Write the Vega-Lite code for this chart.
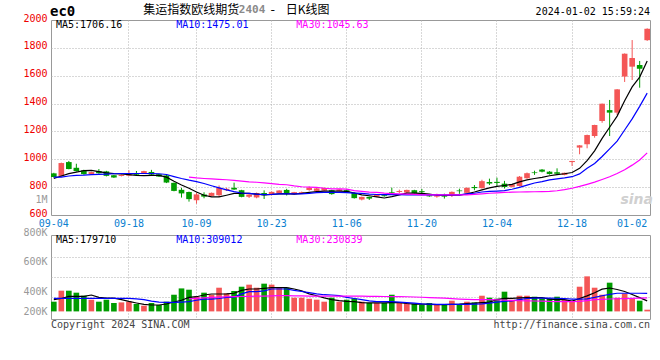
{
"$schema": "https://vega.github.io/schema/vega-lite/v6.json",
"background": "white",
"padding": {"left": 22, "top": 3, "right": 11, "bottom": 4},
"spacing": 20,
"bounds": "flush",
"config": {
  "view": {"stroke": "#999999", "strokeWidth": 1},
  "axis": {"domain": false, "ticks": false, "labelFont": "DejaVu Sans Mono", "labelFontSize": 10, "gridColor": "#b0b0b0", "gridDash": [1, 2], "gridWidth": 1, "labelOverlap": false, "labelFlush": false, "labelBound": false},
  "text": {"font": "DejaVu Sans Mono", "fontSize": 10, "baseline": "middle"}
},
"datasets": {"k": [
{"d":"09-04","o":899,"h":903,"l":868,"c":873,"v":166000,"m5":862,"m10":872,"m30":null,"vm5":200000,"vm10":222000,"vm30":null},
{"d":"09-05","o":878,"h":976,"l":875,"c":973,"v":354000,"m5":880,"m10":872,"m30":null,"vm5":220000,"vm10":222000,"vm30":null},
{"d":"09-06","o":980,"h":988,"l":928,"c":930,"v":354000,"m5":897,"m10":880,"m30":null,"vm5":257000,"vm10":222000,"vm30":null},
{"d":"09-07","o":939,"h":968,"l":912,"c":916,"v":320000,"m5":908,"m10":884,"m30":null,"vm5":257000,"vm10":222000,"vm30":null},
{"d":"09-08","o":920,"h":925,"l":889,"c":893,"v":268000,"m5":918,"m10":886,"m30":null,"vm5":257000,"vm10":222000,"vm30":null},
{"d":"09-11","o":894,"h":911,"l":891,"c":908,"v":200000,"m5":920,"m10":890,"m30":null,"vm5":280000,"vm10":222000,"vm30":null},
{"d":"09-12","o":915,"h":930,"l":896,"c":900,"v":166000,"m5":912,"m10":891,"m30":null,"vm5":240000,"vm10":222000,"vm30":null},
{"d":"09-13","o":913,"h":917,"l":877,"c":881,"v":200000,"m5":902,"m10":893,"m30":null,"vm5":228000,"vm10":222000,"vm30":null},
{"d":"09-14","o":885,"h":887,"l":866,"c":869,"v":144000,"m5":897,"m10":896,"m30":null,"vm5":228000,"vm10":222000,"vm30":null},
{"d":"09-15","o":880,"h":891,"l":877,"c":888,"v":154000,"m5":895,"m10":898,"m30":null,"vm5":200000,"vm10":222000,"vm30":null},
{"d":"09-18","o":882,"h":921,"l":879,"c":891,"v":166000,"m5":890,"m10":898,"m30":null,"vm5":170000,"vm10":222000,"vm30":null},
{"d":"09-19","o":897,"h":916,"l":886,"c":889,"v":126000,"m5":884,"m10":898,"m30":null,"vm5":144000,"vm10":215000,"vm30":null},
{"d":"09-20","o":897,"h":918,"l":894,"c":915,"v":97000,"m5":882,"m10":898,"m30":null,"vm5":120000,"vm10":200000,"vm30":null},
{"d":"09-21","o":909,"h":924,"l":886,"c":890,"v":144000,"m5":884,"m10":898,"m30":null,"vm5":109000,"vm10":175000,"vm30":null},
{"d":"09-22","o":893,"h":896,"l":873,"c":876,"v":109000,"m5":884,"m10":896,"m30":null,"vm5":109000,"vm10":160000,"vm30":null},
{"d":"09-25","o":884,"h":890,"l":829,"c":833,"v":166000,"m5":872,"m10":891,"m30":null,"vm5":126000,"vm10":155000,"vm30":null},
{"d":"09-26","o":831,"h":833,"l":770,"c":773,"v":285000,"m5":842,"m10":876,"m30":null,"vm5":160000,"vm10":155000,"vm30":null},
{"d":"09-27","o":781,"h":795,"l":725,"c":755,"v":393000,"m5":815,"m10":862,"m30":null,"vm5":190000,"vm10":160000,"vm30":null},
{"d":"09-28","o":765,"h":768,"l":696,"c":714,"v":371000,"m5":792,"m10":850,"m30":872,"vm5":240000,"vm10":166000,"vm30":215000},
{"d":"10-09","o":706,"h":760,"l":681,"c":748,"v":251000,"m5":765,"m10":840,"m30":866,"vm5":251000,"vm10":190000,"vm30":222000},
{"d":"10-10","o":747,"h":763,"l":720,"c":732,"v":320000,"m5":742,"m10":826,"m30":862,"vm5":280000,"vm10":211000,"vm30":230000},
{"d":"10-11","o":737,"h":761,"l":733,"c":759,"v":285000,"m5":730,"m10":810,"m30":859,"vm5":297000,"vm10":211000,"vm30":240000},
{"d":"10-12","o":742,"h":812,"l":729,"c":795,"v":405000,"m5":730,"m10":795,"m30":856,"vm5":297000,"vm10":220000,"vm30":245000},
{"d":"10-13","o":778,"h":796,"l":772,"c":788,"v":308000,"m5":742,"m10":780,"m30":853,"vm5":300000,"vm10":240000,"vm30":250000},
{"d":"10-16","o":795,"h":832,"l":780,"c":783,"v":349000,"m5":755,"m10":768,"m30":848,"vm5":310000,"vm10":245000,"vm30":252000},
{"d":"10-17","o":778,"h":781,"l":727,"c":730,"v":422000,"m5":756,"m10":758,"m30":843,"vm5":360000,"vm10":300000,"vm30":255000},
{"d":"10-18","o":731,"h":750,"l":722,"c":747,"v":457000,"m5":755,"m10":755,"m30":838,"vm5":383000,"vm10":337000,"vm30":258000},
{"d":"10-19","o":726,"h":761,"l":720,"c":758,"v":405000,"m5":750,"m10":750,"m30":835,"vm5":383000,"vm10":337000,"vm30":260000},
{"d":"10-20","o":758,"h":777,"l":715,"c":742,"v":474000,"m5":745,"m10":747,"m30":830,"vm5":395000,"vm10":350000,"vm30":262000},
{"d":"10-23","o":745,"h":769,"l":740,"c":766,"v":457000,"m5":747,"m10":748,"m30":825,"vm5":405000,"vm10":383000,"vm30":265000},
{"d":"10-24","o":757,"h":778,"l":753,"c":776,"v":405000,"m5":752,"m10":752,"m30":820,"vm5":405000,"vm10":383000,"vm30":268000},
{"d":"10-25","o":780,"h":788,"l":740,"c":757,"v":405000,"m5":754,"m10":752,"m30":817,"vm5":405000,"vm10":383000,"vm30":268000},
{"d":"10-26","o":749,"h":766,"l":746,"c":764,"v":234000,"m5":750,"m10":752,"m30":809,"vm5":383000,"vm10":360000,"vm30":266000},
{"d":"10-27","o":754,"h":768,"l":750,"c":764,"v":234000,"m5":755,"m10":752,"m30":803,"vm5":350000,"vm10":340000,"vm30":264000},
{"d":"10-30","o":780,"h":805,"l":774,"c":795,"v":217000,"m5":762,"m10":755,"m30":800,"vm5":300000,"vm10":320000,"vm30":262000},
{"d":"10-31","o":773,"h":794,"l":769,"c":791,"v":200000,"m5":768,"m10":760,"m30":798,"vm5":268000,"vm10":300000,"vm30":260000},
{"d":"11-01","o":775,"h":797,"l":772,"c":795,"v":166000,"m5":772,"m10":762,"m30":792,"vm5":230000,"vm10":285000,"vm30":260000},
{"d":"11-02","o":778,"h":781,"l":746,"c":750,"v":234000,"m5":772,"m10":762,"m30":788,"vm5":200000,"vm10":280000,"vm30":260000},
{"d":"11-03","o":773,"h":786,"l":770,"c":784,"v":166000,"m5":772,"m10":762,"m30":787,"vm5":183000,"vm10":270000,"vm30":260000},
{"d":"11-06","o":778,"h":783,"l":757,"c":761,"v":200000,"m5":770,"m10":760,"m30":786,"vm5":170000,"vm10":240000,"vm30":260000},
{"d":"11-07","o":759,"h":761,"l":718,"c":721,"v":222000,"m5":758,"m10":757,"m30":775,"vm5":166000,"vm10":220000,"vm30":260000},
{"d":"11-08","o":711,"h":732,"l":705,"c":730,"v":166000,"m5":745,"m10":755,"m30":770,"vm5":150000,"vm10":200000,"vm30":260000},
{"d":"11-09","o":730,"h":732,"l":708,"c":718,"v":144000,"m5":738,"m10":750,"m30":764,"vm5":144000,"vm10":180000,"vm30":258000},
{"d":"11-10","o":732,"h":750,"l":729,"c":748,"v":144000,"m5":730,"m10":747,"m30":762,"vm5":144000,"vm10":166000,"vm30":257000},
{"d":"11-13","o":742,"h":745,"l":732,"c":735,"v":144000,"m5":722,"m10":746,"m30":757,"vm5":144000,"vm10":166000,"vm30":255000},
{"d":"11-14","o":764,"h":796,"l":749,"c":759,"v":285000,"m5":732,"m10":746,"m30":754,"vm5":150000,"vm10":166000,"vm30":254000},
{"d":"11-15","o":765,"h":782,"l":757,"c":772,"v":144000,"m5":745,"m10":746,"m30":752,"vm5":150000,"vm10":160000,"vm30":252000},
{"d":"11-16","o":761,"h":782,"l":758,"c":780,"v":144000,"m5":757,"m10":745,"m30":750,"vm5":135000,"vm10":150000,"vm30":250000},
{"d":"11-17","o":778,"h":781,"l":753,"c":757,"v":131000,"m5":757,"m10":745,"m30":748,"vm5":126000,"vm10":140000,"vm30":246000},
{"d":"11-20","o":771,"h":787,"l":753,"c":764,"v":115000,"m5":755,"m10":745,"m30":745,"vm5":126000,"vm10":130000,"vm30":242000},
{"d":"11-21","o":742,"h":745,"l":731,"c":734,"v":144000,"m5":750,"m10":745,"m30":744,"vm5":120000,"vm10":125000,"vm30":236000},
{"d":"11-22","o":732,"h":753,"l":724,"c":739,"v":115000,"m5":742,"m10":745,"m30":744,"vm5":115000,"vm10":120000,"vm30":230000},
{"d":"11-23","o":739,"h":753,"l":718,"c":732,"v":115000,"m5":740,"m10":745,"m30":744,"vm5":115000,"vm10":120000,"vm30":226000},
{"d":"11-24","o":742,"h":769,"l":729,"c":766,"v":183000,"m5":742,"m10":745,"m30":744,"vm5":120000,"vm10":120000,"vm30":218000},
{"d":"11-27","o":776,"h":789,"l":752,"c":771,"v":115000,"m5":742,"m10":745,"m30":744,"vm5":126000,"vm10":120000,"vm30":211000},
{"d":"11-28","o":759,"h":798,"l":756,"c":795,"v":166000,"m5":752,"m10":752,"m30":745,"vm5":135000,"vm10":120000,"vm30":205000},
{"d":"11-29","o":801,"h":815,"l":778,"c":793,"v":154000,"m5":765,"m10":756,"m30":748,"vm5":140000,"vm10":125000,"vm30":200000},
{"d":"11-30","o":793,"h":853,"l":789,"c":843,"v":268000,"m5":780,"m10":765,"m30":752,"vm5":150000,"vm10":130000,"vm30":200000},
{"d":"12-01","o":837,"h":861,"l":815,"c":826,"v":234000,"m5":795,"m10":770,"m30":756,"vm5":160000,"vm10":140000,"vm30":200000},
{"d":"12-04","o":838,"h":868,"l":808,"c":830,"v":217000,"m5":805,"m10":772,"m30":759,"vm5":200000,"vm10":160000,"vm30":198000},
{"d":"12-05","o":825,"h":845,"l":790,"c":801,"v":337000,"m5":812,"m10":775,"m30":762,"vm5":222000,"vm10":170000,"vm30":192000},
{"d":"12-06","o":802,"h":823,"l":798,"c":820,"v":200000,"m5":820,"m10":785,"m30":764,"vm5":222000,"vm10":180000,"vm30":186000},
{"d":"12-07","o":808,"h":880,"l":805,"c":875,"v":268000,"m5":838,"m10":798,"m30":765,"vm5":230000,"vm10":200000,"vm30":182000},
{"d":"12-08","o":864,"h":905,"l":860,"c":900,"v":268000,"m5":852,"m10":815,"m30":766,"vm5":234000,"vm10":220000,"vm30":180000},
{"d":"12-11","o":906,"h":918,"l":888,"c":901,"v":251000,"m5":862,"m10":830,"m30":767,"vm5":234000,"vm10":228000,"vm30":178000},
{"d":"12-12","o":926,"h":930,"l":906,"c":911,"v":222000,"m5":870,"m10":840,"m30":768,"vm5":234000,"vm10":228000,"vm30":175000},
{"d":"12-13","o":911,"h":915,"l":890,"c":894,"v":222000,"m5":882,"m10":852,"m30":770,"vm5":210000,"vm10":228000,"vm30":170000},
{"d":"12-14","o":907,"h":935,"l":890,"c":896,"v":251000,"m5":890,"m10":860,"m30":774,"vm5":200000,"vm10":225000,"vm30":168000},
{"d":"12-15","o":888,"h":904,"l":885,"c":903,"v":200000,"m5":896,"m10":866,"m30":782,"vm5":200000,"vm10":220000,"vm30":166000},
{"d":"12-18","o":980,"h":989,"l":952,"c":988,"v":166000,"m5":905,"m10":875,"m30":792,"vm5":175000,"vm10":211000,"vm30":166000},
{"d":"12-19","o":1084,"h":1102,"l":1036,"c":1100,"v":422000,"m5":935,"m10":895,"m30":805,"vm5":220000,"vm10":211000,"vm30":172000},
{"d":"12-20","o":1108,"h":1177,"l":1079,"c":1174,"v":599000,"m5":990,"m10":935,"m30":820,"vm5":265000,"vm10":215000,"vm30":185000},
{"d":"12-21","o":1167,"h":1248,"l":1155,"c":1246,"v":405000,"m5":1060,"m10":970,"m30":836,"vm5":320000,"vm10":240000,"vm30":200000},
{"d":"12-22","o":1275,"h":1400,"l":1262,"c":1399,"v":285000,"m5":1150,"m10":1020,"m30":855,"vm5":380000,"vm10":268000,"vm30":205000},
{"d":"12-25","o":1353,"h":1426,"l":1167,"c":1335,"v":491000,"m5":1230,"m10":1075,"m30":875,"vm5":400000,"vm10":290000,"vm30":212000},
{"d":"12-26","o":1335,"h":1504,"l":1318,"c":1502,"v":234000,"m5":1310,"m10":1130,"m30":898,"vm5":375000,"vm10":310000,"vm30":216000},
{"d":"12-27","o":1594,"h":1760,"l":1555,"c":1758,"v":303000,"m5":1420,"m10":1210,"m30":925,"vm5":340000,"vm10":310000,"vm30":220000},
{"d":"12-28","o":1665,"h":1856,"l":1569,"c":1727,"v":222000,"m5":1520,"m10":1290,"m30":958,"vm5":290000,"vm10":310000,"vm30":224000},
{"d":"12-29","o":1677,"h":1706,"l":1514,"c":1650,"v":183000,"m5":1590,"m10":1380,"m30":995,"vm5":235000,"vm10":310000,"vm30":228000},
{"d":"01-02","o":1855,"h":1940,"l":1850,"c":1937,"v":29000,"m5":1706,"m10":1475,"m30":1046,"vm5":180000,"vm10":309000,"vm30":231000}
]},
"data": {"name": "k"},
"vconcat": [
{
  "width": 599, "height": 195,
  "encoding": {"x": {"field": "d", "type": "ordinal", "sort": null,
    "scale": {"domain": ["09-04","09-05","09-06","09-07","09-08","09-11","09-12","09-13","09-14","09-15","09-18","09-19","09-20","09-21","09-22","09-25","09-26","09-27","09-28","10-09","10-10","10-11","10-12","10-13","10-16","10-17","10-18","10-19","10-20","10-23","10-24","10-25","10-26","10-27","10-30","10-31","11-01","11-02","11-03","11-06","11-07","11-08","11-09","11-10","11-13","11-14","11-15","11-16","11-17","11-20","11-21","11-22","11-23","11-24","11-27","11-28","11-29","11-30","12-01","12-04","12-05","12-06","12-07","12-08","12-11","12-12","12-13","12-14","12-15","12-18","12-19","12-20","12-21","12-22","12-25","12-26","12-27","12-28","12-29","01-02"], "paddingInner": 0.25, "paddingOuter": 0},
    "axis": {"title": null, "values": ["09-04","09-18","10-09","10-23","11-06","11-20","12-04","12-18","01-02"], "labelAngle": 0, "labelColor": "#0a80d0", "labelPadding": 3, "grid": true, "labelOverlap": false,
      "gridOpacity": {"condition": {"test": "datum.value == '09-04' || datum.value == '01-02'", "value": 0}, "value": 1},
      "labelAlign": {"condition": {"test": "datum.value == '01-02'", "value": "right"}, "value": "center"}}}},
  "layer": [
    {"mark": {"type": "rule", "strokeWidth": 1},
     "encoding": {
       "y": {"field": "l", "type": "quantitative", "scale": {"domain": [600, 2000], "zero": false, "nice": false},
         "axis": {"title": null, "values": [600, 700, 800, 1000, 1200, 1400, 1600, 1800, 2000], "tickCount": 50, "format": "d", "labelPadding": 4, "labelOffset": -2, "grid": true, "labelOverlap": false,
           "labelExpr": "datum.value == 700 ? '1M' : datum.label",
           "labelColor": {"condition": {"test": "datum.value == 700", "value": "#9a9a9a"}, "value": "#ee0000"},
           "gridOpacity": {"condition": {"test": "datum.value == 600 || datum.value == 700 || datum.value == 2000", "value": 0}, "value": 1}}},
       "y2": {"field": "h"},
       "color": {"condition": {"test": "datum.c >= datum.o", "value": "#f45656"}, "value": "#009c00"}}},
    {"mark": {"type": "bar"},
     "encoding": {
       "y": {"field": "o", "type": "quantitative"},
       "y2": {"field": "c"},
       "color": {"condition": {"test": "datum.c >= datum.o", "value": "#f45656"}, "value": "#009c00"}}},
    {"mark": {"type": "line", "color": "#000000", "strokeWidth": 1.2}, "encoding": {"y": {"field": "m5", "type": "quantitative"}}},
    {"mark": {"type": "line", "color": "#0000ff", "strokeWidth": 1.2}, "encoding": {"y": {"field": "m10", "type": "quantitative"}}},
    {"mark": {"type": "line", "color": "#ff00ff", "strokeWidth": 1.2}, "encoding": {"y": {"field": "m30", "type": "quantitative"}}},
    {"data": {"values": [{}]}, "mark": {"type": "text", "text": "sina", "font": "DejaVu Sans", "fontSize": 14, "fontWeight": "bold", "fontStyle": "italic", "color": "#d0d0d0", "align": "center", "dx": -3},
     "encoding": {"x": {"datum": "12-29", "type": "ordinal"}, "y": {"datum": 705, "type": "quantitative"}}},
    {"data": {"values": [{}]}, "mark": {"type": "text", "text": "ec0", "fontSize": 14, "fontWeight": "bold", "color": "#000000", "align": "left", "dx": -1},
     "encoding": {"x": {"datum": "09-04", "type": "ordinal", "bandPosition": 0}, "y": {"datum": 2057, "type": "quantitative"}}},
    {"data": {"values": [{}]}, "mark": {"type": "text", "text": "集运指数欧线期货", "font": "Noto Sans CJK SC", "fontSize": 12, "color": "#000000", "align": "left", "dx": 2},
     "encoding": {"x": {"datum": "09-20", "type": "ordinal", "bandPosition": 0}, "y": {"datum": 2072, "type": "quantitative"}}},
    {"data": {"values": [{}]}, "mark": {"type": "text", "text": "2404", "fontSize": 11, "fontWeight": "bold", "color": "#8a8a8a", "align": "left"},
     "encoding": {"x": {"datum": "10-17", "type": "ordinal", "bandPosition": 0}, "y": {"datum": 2072, "type": "quantitative"}}},
    {"data": {"values": [{}]}, "mark": {"type": "text", "text": "-", "font": "Noto Sans CJK SC", "fontSize": 13, "color": "#000000", "align": "center", "dx": 4},
     "encoding": {"x": {"datum": "10-23", "type": "ordinal", "bandPosition": 0}, "y": {"datum": 2072, "type": "quantitative"}}},
    {"data": {"values": [{}]}, "mark": {"type": "text", "text": "日K线图", "font": "Noto Sans CJK SC", "fontSize": 12, "color": "#000000", "align": "left", "dx": 2},
     "encoding": {"x": {"datum": "10-25", "type": "ordinal", "bandPosition": 0}, "y": {"datum": 2072, "type": "quantitative"}}},
    {"data": {"values": [{}]}, "mark": {"type": "text", "text": "2024-01-02 15:59:24", "color": "#000000", "align": "right"},
     "encoding": {"x": {"datum": "01-02", "type": "ordinal", "bandPosition": 1}, "y": {"datum": 2054, "type": "quantitative"}}},
    {"data": {"values": [{}]}, "mark": {"type": "text", "text": "MA5:1706.16", "color": "#000000", "align": "left", "dx": 5},
     "encoding": {"x": {"datum": "09-04", "type": "ordinal", "bandPosition": 0}, "y": {"datum": 1966, "type": "quantitative"}}},
    {"data": {"values": [{}]}, "mark": {"type": "text", "text": "MA10:1475.01", "color": "#0000ff", "align": "left", "dx": 5},
     "encoding": {"x": {"datum": "09-26", "type": "ordinal", "bandPosition": 0}, "y": {"datum": 1966, "type": "quantitative"}}},
    {"data": {"values": [{}]}, "mark": {"type": "text", "text": "MA30:1045.63", "color": "#ff00ff", "align": "left", "dx": 5},
     "encoding": {"x": {"datum": "10-26", "type": "ordinal", "bandPosition": 0}, "y": {"datum": 1966, "type": "quantitative"}}}
  ]
},
{
  "width": 599, "height": 84,
  "encoding": {"x": {"field": "d", "type": "ordinal", "sort": null,
    "scale": {"domain": ["09-04","09-05","09-06","09-07","09-08","09-11","09-12","09-13","09-14","09-15","09-18","09-19","09-20","09-21","09-22","09-25","09-26","09-27","09-28","10-09","10-10","10-11","10-12","10-13","10-16","10-17","10-18","10-19","10-20","10-23","10-24","10-25","10-26","10-27","10-30","10-31","11-01","11-02","11-03","11-06","11-07","11-08","11-09","11-10","11-13","11-14","11-15","11-16","11-17","11-20","11-21","11-22","11-23","11-24","11-27","11-28","11-29","11-30","12-01","12-04","12-05","12-06","12-07","12-08","12-11","12-12","12-13","12-14","12-15","12-18","12-19","12-20","12-21","12-22","12-25","12-26","12-27","12-28","12-29","01-02"], "paddingInner": 0.25, "paddingOuter": 0},
    "axis": {"title": null, "values": ["09-18","10-09","10-23","11-06","11-20","12-04","12-18"], "labels": false, "grid": true}}},
  "layer": [
    {"mark": {"type": "bar"},
     "encoding": {
       "y": {"field": "v", "type": "quantitative", "scale": {"domain": [-130000, 1306000], "zero": false, "nice": false},
         "axis": {"title": null, "values": [0, 251000, 340000, 593000, 861000, 935000, 1306000], "tickCount": 50, "labelPadding": 4, "labelColor": "#999999", "grid": true, "labelOverlap": false,
           "labelExpr": "datum.value == 0 ? '200K' : datum.value == 340000 ? '400K' : datum.value == 861000 ? '600K' : datum.value == 1306000 ? '800K' : ''",
           "labelBaseline": {"condition": {"test": "datum.value == 1306000", "value": "alphabetic"}, "value": "middle"},
           "gridOpacity": {"condition": {"test": "datum.value == 251000 || datum.value == 593000 || datum.value == 935000", "value": 1}, "value": 0}}},
       "y2": {"datum": 0},
       "color": {"condition": {"test": "datum.c >= datum.o", "value": "#f45656"}, "value": "#009c00"}}},
    {"mark": {"type": "line", "color": "#000000", "strokeWidth": 1.2}, "encoding": {"y": {"field": "vm5", "type": "quantitative"}}},
    {"mark": {"type": "line", "color": "#0000ff", "strokeWidth": 1.2}, "encoding": {"y": {"field": "vm10", "type": "quantitative"}}},
    {"mark": {"type": "line", "color": "#ff00ff", "strokeWidth": 1.2}, "encoding": {"y": {"field": "vm30", "type": "quantitative"}}},
    {"data": {"values": [{}]}, "mark": {"type": "text", "text": "MA5:179710", "color": "#000000", "align": "left", "dx": 5},
     "encoding": {"x": {"datum": "09-04", "type": "ordinal", "bandPosition": 0}, "y": {"datum": 1229000, "type": "quantitative"}}},
    {"data": {"values": [{}]}, "mark": {"type": "text", "text": "MA10:309012", "color": "#0000ff", "align": "left", "dx": 5},
     "encoding": {"x": {"datum": "09-26", "type": "ordinal", "bandPosition": 0}, "y": {"datum": 1229000, "type": "quantitative"}}},
    {"data": {"values": [{}]}, "mark": {"type": "text", "text": "MA30:230839", "color": "#ff00ff", "align": "left", "dx": 5},
     "encoding": {"x": {"datum": "10-26", "type": "ordinal", "bandPosition": 0}, "y": {"datum": 1229000, "type": "quantitative"}}},
    {"data": {"values": [{}]}, "mark": {"type": "text", "text": "Copyright 2024 SINA.COM", "color": "#444444", "align": "left"},
     "encoding": {"x": {"datum": "09-04", "type": "ordinal", "bandPosition": 0}, "y": {"datum": -232000, "type": "quantitative"}}},
    {"data": {"values": [{}]}, "mark": {"type": "text", "text": "http://finance.sina.com.cn", "color": "#444444", "align": "right"},
     "encoding": {"x": {"datum": "01-02", "type": "ordinal", "bandPosition": 1}, "y": {"datum": -232000, "type": "quantitative"}}}
  ]
}
]
}
